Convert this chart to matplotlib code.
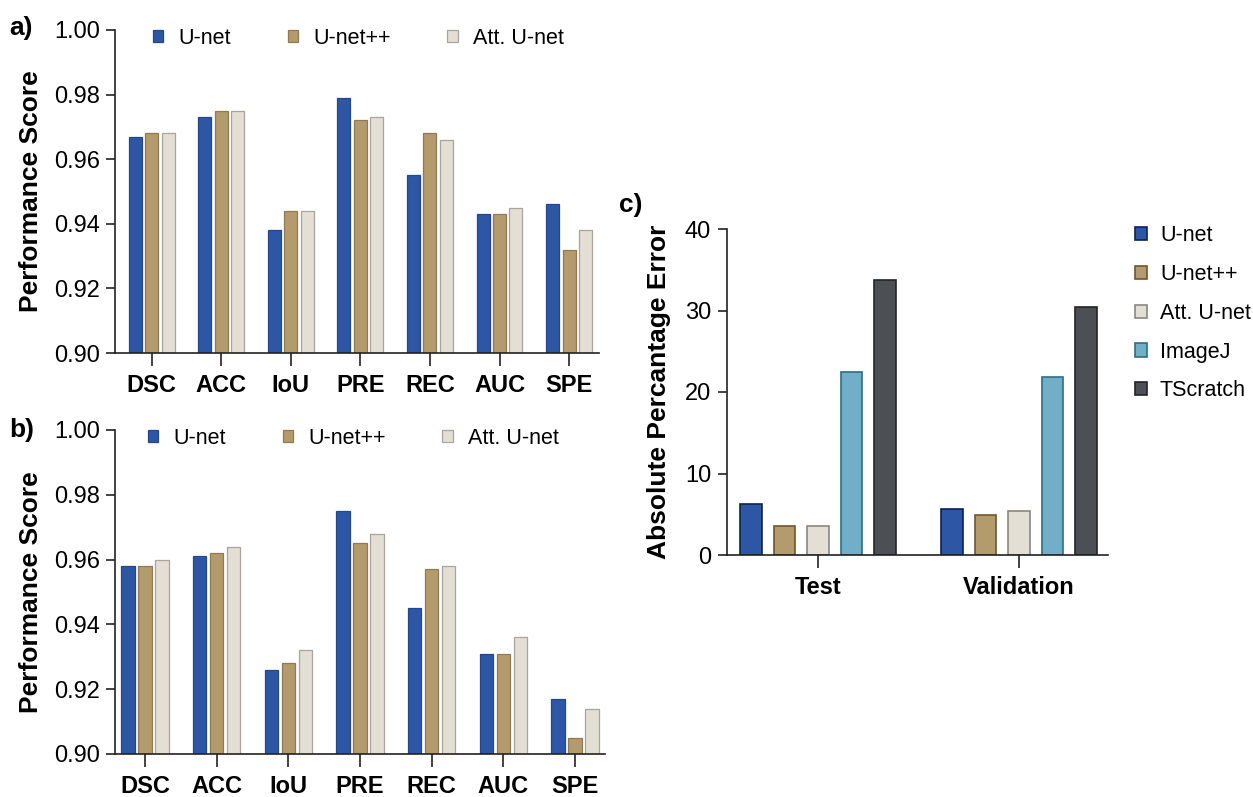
"""Segmentation metrics (a, b) and absolute percentage error (c)."""

import matplotlib
matplotlib.use('Agg')
import matplotlib.pyplot as plt
import numpy as np

plt.rcParams['font.family'] = ['Liberation Sans', 'DejaVu Sans']

W, H = 1253, 797

metrics = ['DSC', 'ACC', 'IoU', 'PRE', 'REC', 'AUC', 'SPE']
models = ['U-net', 'U-net++', 'Att. U-net']

# panel a
a_unet = [0.967, 0.973, 0.938, 0.979, 0.955, 0.943, 0.946]
a_unetpp = [0.968, 0.975, 0.944, 0.972, 0.968, 0.943, 0.932]
a_att = [0.968, 0.975, 0.944, 0.973, 0.966, 0.945, 0.938]

# panel b
b_unet = [0.958, 0.961, 0.926, 0.975, 0.945, 0.931, 0.917]
b_unetpp = [0.958, 0.962, 0.928, 0.965, 0.957, 0.931, 0.905]
b_att = [0.960, 0.964, 0.932, 0.968, 0.958, 0.936, 0.914]

# panel c
splits = ['Test', 'Validation']
methods = ['U-net', 'U-net++', 'Att. U-net', 'ImageJ', 'TScratch']
c_unet = [6.3, 5.7]
c_unetpp = [3.6, 4.9]
c_att = [3.6, 5.4]
c_imagej = [22.5, 21.8]
c_tscratch = [33.8, 30.4]

face = ['#2d56a5', '#b49b6e', '#e3dfd5', '#71afc9', '#4c4f54']
edge_ab = ['#24478c', '#917a50', '#a9a59d']
edge_c = ['#0f2350', '#6f5630', '#8a8780', '#2f6d84', '#222428']


def rect(x0, y0, x1, y1):
    # pixel box (top-left origin) -> figure fraction [l, b, w, h]
    return [x0 / W, 1 - y1 / H, (x1 - x0) / W, (y1 - y0) / H]


def fig_pt(x, y):
    return (x / W, 1 - y / H)


def style_axis(ax):
    for s in ['top', 'right']:
        ax.spines[s].set_visible(False)
    for s in ['left', 'bottom']:
        ax.spines[s].set_linewidth(1.2)
        ax.spines[s].set_color('#222222')
    ax.tick_params(axis='y', direction='out', length=6.5, width=1.2, pad=4.3,
                   labelsize=17, color='#222222')
    ax.tick_params(axis='x', direction='out', length=9, width=1.2, pad=6,
                   color='#222222')
    for lbl in ax.get_xticklabels():
        lbl.set_fontweight('bold')
        lbl.set_fontsize(17)


def metric_panel(ax, series, xlim, letter, letter_xy, leg_xy):
    x = np.arange(len(metrics))
    w = 0.187
    step = 0.237
    for i, vals in enumerate(series):
        ax.bar(x + (i - 1) * step, vals, width=w, color=face[i],
               edgecolor=edge_ab[i], linewidth=0.9, label=models[i])
    ax.set_xlim(*xlim)
    ax.set_ylim(0.90, 1.00)
    ax.set_yticks([0.90, 0.92, 0.94, 0.96, 0.98, 1.00])
    ax.set_yticklabels(['0.90', '0.92', '0.94', '0.96', '0.98', '1.00'])
    ax.set_xticks(x)
    ax.set_xticklabels(metrics)
    ax.set_ylabel('Performance Score', fontsize=19, fontweight='bold', labelpad=8)
    style_axis(ax)
    ax.legend(ncol=3, frameon=False, loc='center left',
              bbox_to_anchor=fig_pt(*leg_xy), bbox_transform=fig.transFigure,
              fontsize=15.5, handlelength=0.47, handleheight=0.47,
              handletextpad=0.7, columnspacing=2.65, borderpad=0,
              borderaxespad=0)
    fig.text(*fig_pt(*letter_xy), letter, fontsize=19, fontweight='bold',
             va='center', ha='left')


fig = plt.figure(figsize=(W / 100, H / 100), dpi=100)

ax_a = fig.add_axes(rect(115, 30, 599, 353))
metric_panel(ax_a, [a_unet, a_unetpp, a_att], (-0.526, 6.43), 'a)', (9, 28), (153, 38))

ax_b = fig.add_axes(rect(115, 430, 605, 754))
metric_panel(ax_b, [b_unet, b_unetpp, b_att], (-0.42, 6.42), 'b)', (9, 430), (148, 438))

ax_c = fig.add_axes(rect(727, 229, 1108, 555))
xc = np.arange(len(splits))
cw = 0.107
cstep = 0.1667
for i, vals in enumerate([c_unet, c_unetpp, c_att, c_imagej, c_tscratch]):
    ax_c.bar(xc + (i - 2) * cstep, vals, width=cw, color=face[i],
             edgecolor=edge_c[i], linewidth=1.2, label=methods[i])
ax_c.set_xlim(-0.453, 1.443)
ax_c.set_ylim(0, 40)
ax_c.set_yticks([0, 10, 20, 30, 40])
ax_c.set_xticks(xc)
ax_c.set_xticklabels(splits)
ax_c.set_ylabel('Absolute Percantage Error', fontsize=19, fontweight='bold', labelpad=10)
style_axis(ax_c)
ax_c.tick_params(axis='y', pad=5)
ax_c.legend(frameon=False, loc='upper left', bbox_to_anchor=fig_pt(1135, 225),
            bbox_transform=fig.transFigure, fontsize=15.5, handlelength=0.56,
            handleheight=0.56, handletextpad=0.6, labelspacing=0.83,
            borderpad=0, borderaxespad=0)
fig.text(*fig_pt(619, 205), 'c)', fontsize=19, fontweight='bold',
         va='center', ha='left')

fig.savefig('out.png', dpi=100)
